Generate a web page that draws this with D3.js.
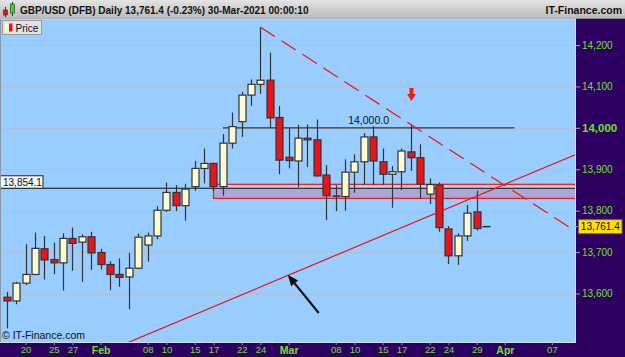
<!DOCTYPE html>
<html>
<head>
<meta charset="utf-8">
<script src="https://cdn.jsdelivr.net/npm/d3@7"></script>
<style>
body { margin: 0; background: #fff; }
svg { display: block; font-family: "Liberation Sans", Arial, sans-serif; }
</style>
</head>
<body>
<script>
// GBP/USD (DFB) daily, index 0 = 18-Jan-2021, last = 30-Mar-2021
const open  = [13591,13582,13625,13646,13708,13682,13674,13733,13724,13737,
               13699,13670,13646,13640,13661,13717,13739,13801,13844,13812,
               13858,13902,13914,13858,13963,14015,14079,14105,14115,14025,
               13929,13920,13975,13971,13886,13836,13834,13893,13918,13978,
               13918,13888,13894,13942,13928,13840,13862,13756,13691,13739,
               13797,13761.4]
const high  = [13604,13628,13719,13747,13739,13723,13745,13759,13743,13749,
               13708,13678,13685,13698,13745,13747,13811,13868,13862,13865,
               13920,13950,13916,13985,14037,14087,14117,14243,14182,14053,
               13999,14007,14008,14020,13910,13861,13924,13936,13987,14004,
               13950,13908,13950,14007,13960,13878,13868,13763,13745,13814,
               13848,13761.4]
const low   = [13516,13574,13620,13644,13634,13647,13607,13655,13628,13657,
               13658,13608,13616,13562,13659,13677,13731,13797,13799,13776,
               13848,13866,13847,13836,13950,13978,14053,14082,14000,13888,
               13902,13857,13905,13882,13777,13799,13800,13843,13862,13862,
               13862,13807,13850,13896,13830,13816,13749,13671,13669,13727,
               13752,13761.4]
const close = [13582,13625,13646,13709,13681,13674,13733,13721,13737,13698,
               13670,13646,13639,13661,13736,13739,13801,13844,13812,13852,
               13902,13914,13858,13963,14003,14079,14105,14115,14024,13922,
               13921,13975,13971,13884,13836,13835,13893,13918,13978,13920,
               13888,13894,13944,13928,13864,13863,13759,13691,13739,13794,
               13757,13761.4]

const yTicks = [13600, 13700, 13800, 13900, 14000, 14100, 14200]
const xTickIdx  = [2, 5, 7, 10, 15, 17, 20, 22, 25, 27, 30, 35, 37, 40, 42, 45, 47, 50, 53, 58]
const xTickText = ['20','25','27','Feb','08','10','15','17','22','24','Mar','08','10','15','17','22','24','29','Apr','07']
const months = ['Feb', 'Mar', 'Apr']

const lastPrice = 13761.4
const lineLevel = 13854.1           // full width line with label box
const roundLevel = 14000            // short line "14,000.0"
const roundFrom = 23, roundTo = 54
const zoneTop = 13863.6, zoneBottom = 13829.8, zoneFrom = 22
const trendUp   = [[30, 13644.5], [60, 13930.5]]   // solid red
const trendDown = [[27, 14243], [60, 13758]]       // dashed red
const arrowDown = [43, 14065]                       // red arrow tip
const arrowTail = [33.2, 13553], arrowTip = [29.9, 13645]

const title = 'GBP/USD (DFB) Daily 13,761.4 (-0.23%) 30-Mar-2021 00:00:10'

// Layout
const W = 625, H = 357
const pl = 0, pt = 19, pr = 575, pb = 342

const x = d3.scaleLinear().domain([-0.713, 60.46]).range([pl, pr])
const y = d3.scaleLinear().domain([13600, 14200]).range([293.5, 45])
const fmt = d3.format(',')

const svg = d3.select('body').append('svg')
  .attr('width', W).attr('height', H)

const defs = svg.append('defs')
const grad = defs.append('linearGradient').attr('id', 'hdr')
  .attr('x1', 0).attr('y1', 0).attr('x2', 0).attr('y2', 1)
grad.append('stop').attr('offset', '0%').attr('stop-color', '#e4e4e4')
grad.append('stop').attr('offset', '100%').attr('stop-color', '#b9b9b9')
defs.append('clipPath').attr('id', 'plotclip')
  .append('rect').attr('x', pl).attr('y', pt).attr('width', pr - pl).attr('height', pb - pt)

// backgrounds
svg.append('rect').attr('width', W).attr('height', H).attr('fill', '#2d0062')
svg.append('rect')
  .attr('x', pl).attr('y', pt).attr('width', pr - pl).attr('height', pb - pt)
  .attr('fill', '#99ccff')

// header
svg.append('rect').attr('width', W).attr('height', pt).attr('fill', 'url(#hdr)')
svg.append('line').attr('x1', 0).attr('x2', W).attr('y1', pt - 0.5).attr('y2', pt - 0.5)
  .attr('stroke', '#8a8a8a')
// header icon
const icon = svg.append('g')
icon.append('line').attr('x1', 5.5).attr('x2', 5.5).attr('y1', 7).attr('y2', 17).attr('stroke', '#333')
icon.append('rect').attr('x', 3.5).attr('y', 10).attr('width', 4).attr('height', 5).attr('fill', '#e8141a').attr('stroke', '#333').attr('stroke-width', 0.6)
icon.append('line').attr('x1', 12.5).attr('x2', 12.5).attr('y1', 2).attr('y2', 16).attr('stroke', '#333')
icon.append('rect').attr('x', 10.5).attr('y', 4).attr('width', 4).attr('height', 9).attr('fill', '#22dd22').attr('stroke', '#333').attr('stroke-width', 0.6)

svg.append('text').attr('x', 20).attr('y', 13.5)
  .attr('font-size', 10).attr('font-weight', 'bold').attr('fill', '#111')
  .text(title)
svg.append('text').attr('x', 622).attr('y', 13.5).attr('text-anchor', 'end')
  .attr('font-size', 10.5).attr('font-weight', 'bold').attr('fill', '#111')
  .text('IT-Finance.com')

// grid
svg.append('g').selectAll('line').data(yTicks).enter().append('line')
  .attr('x1', pl).attr('x2', pr)
  .attr('y1', d => Math.round(y(d)) + 0.5).attr('y2', d => Math.round(y(d)) + 0.5)
  .attr('stroke', '#aebfd6').attr('stroke-width', 1.2)

const plot = svg.append('g').attr('clip-path', 'url(#plotclip)')

// support zone
plot.append('rect')
  .attr('x', x(zoneFrom)).attr('y', y(zoneTop))
  .attr('width', pr - x(zoneFrom)).attr('height', y(zoneBottom) - y(zoneTop))
  .attr('fill', '#c6cdee')
plot.append('rect')
  .attr('x', x(zoneFrom)).attr('y', y(lineLevel))
  .attr('width', pr - x(zoneFrom)).attr('height', y(zoneBottom) - y(lineLevel))
  .attr('fill', '#aba8d8')
plot.append('rect')
  .attr('x', x(zoneFrom)).attr('y', y(zoneTop))
  .attr('width', pr - x(zoneFrom) + 5).attr('height', y(zoneBottom) - y(zoneTop))
  .attr('fill', 'none').attr('stroke', '#ff1010').attr('stroke-width', 1.2)

// horizontal levels
plot.append('line')
  .attr('x1', pl).attr('x2', pr).attr('y1', y(lineLevel)).attr('y2', y(lineLevel))
  .attr('stroke', '#111').attr('stroke-width', 1)
plot.append('line')
  .attr('x1', x(roundFrom)).attr('x2', x(roundTo)).attr('y1', y(roundLevel)).attr('y2', y(roundLevel))
  .attr('stroke', '#333').attr('stroke-width', 1.3)
svg.append('text')
  .attr('x', x((roundFrom + roundTo) / 2)).attr('y', y(roundLevel) - 4)
  .attr('text-anchor', 'middle').attr('font-size', 10.5).attr('fill', '#111')
  .text(d3.format(',.1f')(roundLevel))

// candles
const idx = d3.range(open.length)
const bw = 7
const candles = plot.append('g')
candles.selectAll('.wick').data(idx).enter().append('line')
  .attr('class', 'wick')
  .attr('x1', i => Math.round(x(i)) + 0.5).attr('x2', i => Math.round(x(i)) + 0.5)
  .attr('y1', i => y(high[i])).attr('y2', i => y(low[i]))
  .attr('stroke', '#333').attr('stroke-width', 1.2)
candles.selectAll('.body').data(idx.filter(i => Math.abs(y(open[i]) - y(close[i])) >= 1)).enter().append('rect')
  .attr('class', 'body')
  .attr('x', i => Math.round(x(i)) + 0.5 - bw / 2)
  .attr('width', bw)
  .attr('y', i => y(Math.max(open[i], close[i])))
  .attr('height', i => Math.abs(y(open[i]) - y(close[i])))
  .attr('fill', i => close[i] < open[i] ? '#e8141a' : '#fdfbd2')
  .attr('stroke', '#333').attr('stroke-width', 1.2)
candles.selectAll('.doji').data(idx.filter(i => Math.abs(y(open[i]) - y(close[i])) < 1)).enter().append('line')
  .attr('class', 'doji')
  .attr('x1', i => Math.round(x(i)) + 0.5 - bw / 2 - 0.5)
  .attr('x2', i => Math.round(x(i)) + 0.5 + bw / 2 + 0.5)
  .attr('y1', i => y(close[i])).attr('y2', i => y(close[i]))
  .attr('stroke', '#333').attr('stroke-width', 1.5)

// trend lines
function extend(p, i) {
  const k = (p[1][1] - p[0][1]) / (p[1][0] - p[0][0])
  return p[0][1] + k * (i - p[0][0])
}
plot.append('line')
  .attr('x1', x(10)).attr('y1', y(extend(trendUp, 10)))
  .attr('x2', x(62)).attr('y2', y(extend(trendUp, 62)))
  .attr('stroke', '#f01010').attr('stroke-width', 1.2)
plot.append('line')
  .attr('x1', x(trendDown[0][0])).attr('y1', y(trendDown[0][1]))
  .attr('x2', x(62)).attr('y2', y(extend(trendDown, 62)))
  .attr('stroke', '#f01010').attr('stroke-width', 1.2)
  .attr('stroke-dasharray', '17,8')

// red arrow
const ax = Math.round(x(arrowDown[0])) + 0.5, ay = y(arrowDown[1])
svg.append('path')
  .attr('d', `M${ax - 2},${ay - 13}H${ax + 2}V${ay - 7}H${ax + 4.5}L${ax},${ay}L${ax - 4.5},${ay - 7}H${ax - 2}Z`)
  .attr('fill', '#ec1c1c')

// black arrow
const tx = x(arrowTail[0]), ty = y(arrowTail[1]), hx = x(arrowTip[0]), hy = y(arrowTip[1])
const ang = Math.atan2(hy - ty, hx - tx)
const hl = 11, hw = 4.5
const bx = hx - hl * Math.cos(ang), by = hy - hl * Math.sin(ang)
svg.append('line').attr('x1', tx).attr('y1', ty).attr('x2', bx).attr('y2', by)
  .attr('stroke', '#111').attr('stroke-width', 2.2)
svg.append('path')
  .attr('d', `M${hx},${hy}L${bx + hw * Math.sin(ang)},${by - hw * Math.cos(ang)}L${bx - hw * Math.sin(ang)},${by + hw * Math.cos(ang)}Z`)
  .attr('fill', '#111')

// level label box
svg.append('rect')
  .attr('x', 0.5).attr('y', y(lineLevel) - 12.5).attr('width', 42.5).attr('height', 12.5)
  .attr('fill', '#f6f6f6').attr('stroke', '#222')
svg.append('text')
  .attr('x', 3).attr('y', y(lineLevel) - 2.6)
  .attr('font-size', 10).attr('fill', '#111')
  .text(d3.format(',.1f')(lineLevel))

// legend "Price"
svg.append('rect').attr('x', 2.5).attr('y', 20.5).attr('width', 39).attr('height', 14)
  .attr('fill', '#e2e2e2').attr('stroke', '#9a9a9a')
svg.append('rect').attr('x', 5).attr('y', 23.5).attr('width', 4).attr('height', 8).attr('fill', '#fdfbd2')
svg.append('rect').attr('x', 9).attr('y', 23.5).attr('width', 3.5).attr('height', 8).attr('fill', '#e8141a')
svg.append('text').attr('x', 15.5).attr('y', 31.5).attr('font-size', 10).attr('fill', '#111').text('Price')

// copyright
svg.append('text').attr('x', 2).attr('y', 339).attr('font-size', 10.5).attr('fill', '#111')
  .text('\u00a9 IT-Finance.com')

// plot border
svg.append('rect')
  .attr('x', pl + 0.5).attr('y', pt).attr('width', pr - pl).attr('height', pb - pt + 0.5)
  .attr('fill', 'none').attr('stroke', '#cde0f3').attr('stroke-width', 1)
svg.append('line').attr('x1', 0.5).attr('x2', 0.5).attr('y1', pt).attr('y2', pb)
  .attr('stroke', '#8899aa')

// right axis
const yAxis = svg.append('g')
  .attr('transform', `translate(${pr + 1},0)`)
  .call(d3.axisRight(y).tickValues(yTicks).tickSize(4).tickPadding(2).tickFormat(fmt))
yAxis.select('.domain').remove()
yAxis.selectAll('line').attr('stroke', '#9c98b8')
yAxis.selectAll('text')
  .attr('fill', '#6fe020')
  .attr('font-family', '"Liberation Sans", Arial, sans-serif')
  .attr('font-size', d => d === 14000 ? 11.5 : 10)
  .attr('font-weight', d => d === 14000 ? 'bold' : 'normal')

// last price tag
const ly = y(lastPrice)
svg.append('line').attr('x1', pr).attr('x2', 579).attr('y1', ly).attr('y2', ly).attr('stroke', '#9c98b8')
svg.append('rect').attr('x', 578.5).attr('y', ly - 7).attr('width', 43.5).attr('height', 14)
  .attr('fill', '#ffdf00').attr('stroke', '#6a6a6a')
svg.append('text').attr('x', 600.3).attr('y', ly).attr('dy', '0.35em')
  .attr('text-anchor', 'middle').attr('font-size', 10).attr('fill', '#111')
  .text(d3.format(',.1f')(lastPrice))

// bottom axis
const xAxis = svg.append('g')
  .attr('transform', `translate(0,${pb})`)
  .call(d3.axisBottom(x).tickValues(xTickIdx).tickSize(3).tickPadding(1.5)
    .tickFormat((d, i) => xTickText[i]))
xAxis.select('.domain').remove()
xAxis.selectAll('line').attr('stroke', '#9c98b8')
xAxis.selectAll('text')
  .attr('fill', '#6fe020')
  .attr('font-family', '"Liberation Sans", Arial, sans-serif')
  .attr('font-size', (d, i) => months.includes(xTickText[i]) ? 10.5 : 9.5)
  .attr('font-weight', (d, i) => months.includes(xTickText[i]) ? 'bold' : 'normal')
</script>
</body>
</html>
